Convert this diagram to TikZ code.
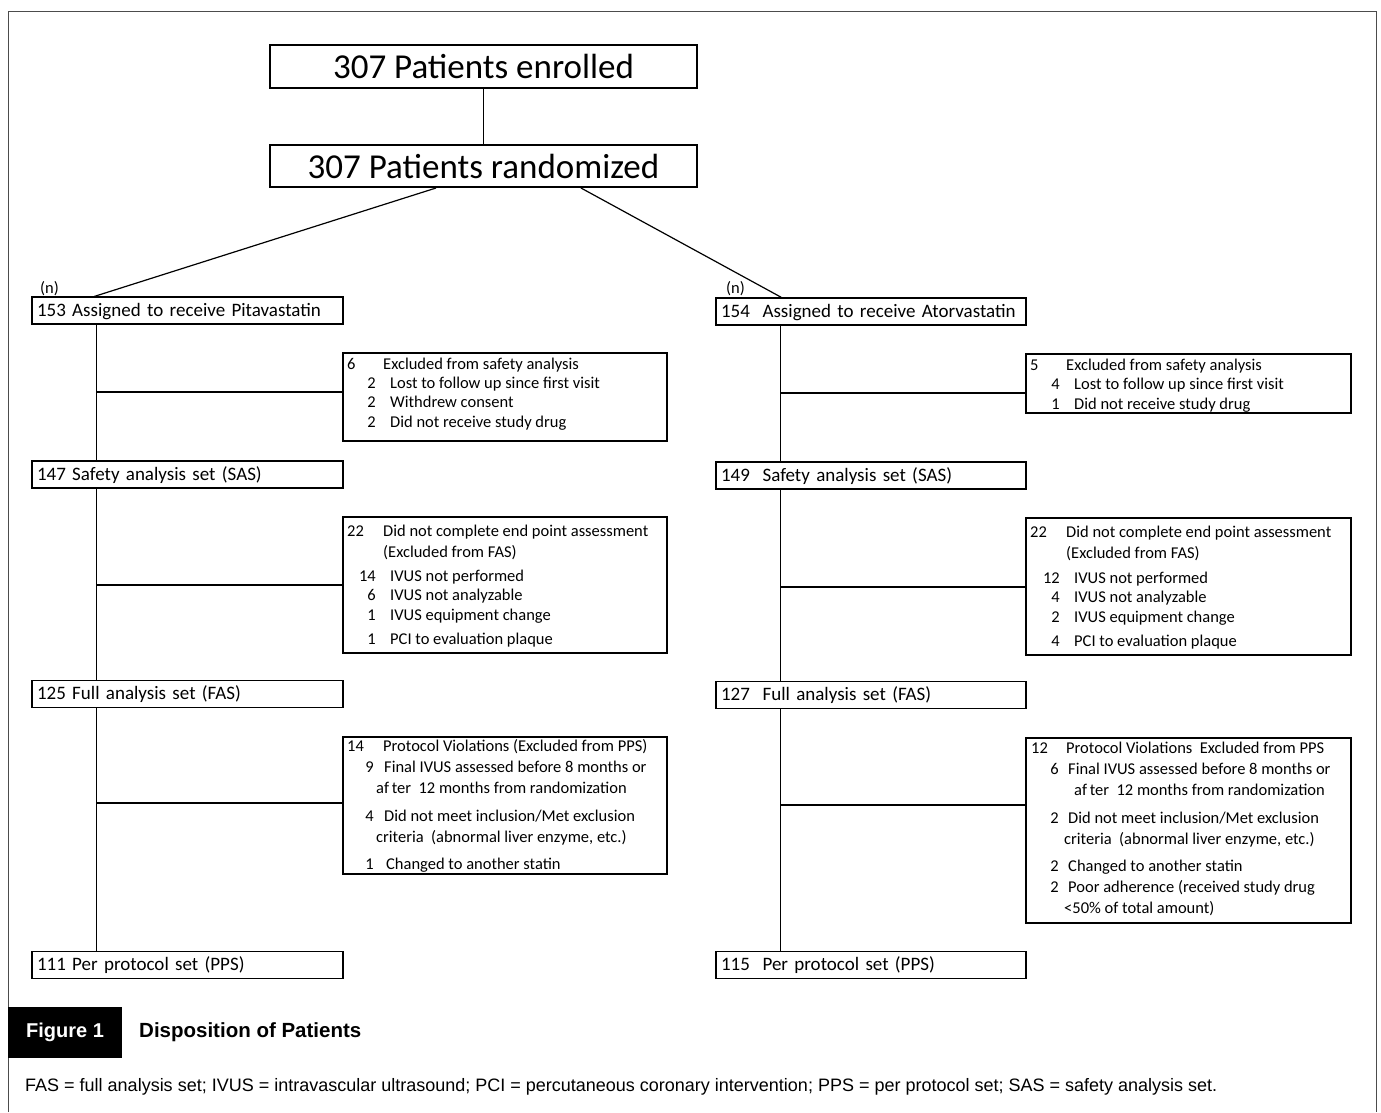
\documentclass[tikz,border=0pt]{standalone}
\usepackage{fontspec}
\setmainfont{Carlito}
\newfontfamily\capfont{Liberation Sans}
\newfontfamily\notefont{Liberation Sans}
\usetikzlibrary{positioning}

\tikzset{
  bigbox/.style={draw, line width=2pt, minimum width=427pt, minimum height=43pt, inner sep=0pt, font=\fontsize{35}{40}\selectfont},
  armbox/.style={draw, line width=1.2pt, minimum width=311pt, minimum height=27pt, text width=301pt, inner xsep=5pt, inner ysep=0pt, text depth=2pt, align=left, font=\fontsize{19}{22}\selectfont},
  exbox/.style={draw, line width=1.2pt, minimum width=324pt, inner sep=0pt},
  extxt/.style={anchor=base west, inner sep=0pt, font=\fontsize{16.5}{20}\selectfont},
  subnum/.style={anchor=base east, inner sep=0pt, font=\fontsize{16.5}{20}\selectfont},
  link/.style={line width=1.2pt}
}

\begin{document}
\begin{tikzpicture}[x=1pt, y=-1pt]
  \useasboundingbox (0,0) rectangle (1381,1112);
  \draw [line width=1pt, black!70] (8,1112) -- (8,11) -- (1376,11) -- (1376,1112);

  % top of the chart
  \node [bigbox] (enrol) at (483.5,66.5) {307 Patients enrolled};
  \node [bigbox, minimum height=42pt] (rand) at (483.5,166) {307 Patients randomized};
  \draw [link] (enrol) -- (rand);

  % the two arms
  \node [armbox] (pita) at (187.5,310.5) {153 Assigned to receive Pitavastatin};
  \node [armbox] (sasl) at (187.5,474.5) {147 Safety analysis set (SAS)};
  \node [armbox] (fasl) at (187.5,694) {125 Full analysis set (FAS)};
  \node [armbox] (ppsl) at (187.5,965) {111 Per protocol set (PPS)};
  \node [armbox, minimum width=310pt, text width=300pt] (ator) at (871,311.5) {154~ Assigned to receive Atorvastatin};
  \node [armbox, minimum width=310pt, text width=300pt] (sasr) at (871,475.5) {149~ Safety analysis set (SAS)};
  \node [armbox, minimum width=310pt, text width=300pt] (fasr) at (871,695) {127~ Full analysis set (FAS)};
  \node [armbox, minimum width=310pt, text width=300pt] (ppsr) at (871,965) {115~ Per protocol set (PPS)};
  \node [extxt] (nl) at (40,293) {(n)};
  \node [extxt] (nr) at (726,293) {(n)};
  \draw [link] ([xshift=167pt]rand.south west) -- ([xshift=63pt]pita.north west);
  \draw [link] ([xshift=312pt]rand.south west) -- ([xshift=66pt]ator.north west);

  \draw [link] ([xshift=65pt]pita.south west) -- ([xshift=65pt]sasl.north west);
  \draw [link] ([xshift=65pt]sasl.south west) -- ([xshift=65pt]fasl.north west);
  \draw [link] ([xshift=65pt]fasl.south west) -- ([xshift=65pt]ppsl.north west);
  \draw [link] ([xshift=65pt]ator.south west) -- ([xshift=65pt]sasr.north west);
  \draw [link] ([xshift=65pt]sasr.south west) -- ([xshift=65pt]fasr.north west);
  \draw [link] ([xshift=65pt]fasr.south west) -- ([xshift=65pt]ppsr.north west);

  % exclusion boxes, left
  \node [exbox, minimum height=88pt] (exsl) at (505,397) {};
  \node [exbox, minimum height=136pt] (exfl) at (505,585) {};
  \node [exbox, minimum height=137pt] (expl) at (505,805.5) {};
  \coordinate (bl1) at (97,392);
  \coordinate (bl2) at (97,585);
  \coordinate (bl3) at (97,803);
  \draw [link] (bl1) -- (bl1 -| exsl.west);
  \draw [link] (bl2) -- (bl2 -| exfl.west);
  \draw [link] (bl3) -- (bl3 -| expl.west);

  \node [extxt] (hsl) at (347,369) {6};
  \node [extxt] (tsl) at (383,369) {Excluded from safety analysis};
  \foreach \y/\n/\t [count=\i] in {388/2/Lost to follow up since first visit, 407/2/Withdrew consent, 427/2/Did not receive study drug} {
    \node [subnum] (snsl\i) at (376,\y) {\n};
    \node [extxt] (stsl\i) at (390,\y) {\t};
  }

  \node [extxt] (hfl) at (347,536) {22};
  \node [extxt] (tfl) at (383,536) {Did not complete end point assessment};
  \node [extxt] (tfl2) at (383,557) {(Excluded from FAS)};
  \foreach \y/\n/\t [count=\i] in {581/14/IVUS not performed, 600/6/IVUS not analyzable, 620/1/IVUS equipment change, 644/1/PCI to evaluation plaque} {
    \node [subnum] (snfl\i) at (376,\y) {\n};
    \node [extxt] (stfl\i) at (390,\y) {\t};
  }

  \node [extxt] (hpl) at (347,751) {14};
  \node [extxt] (tpl) at (383,751) {Protocol Violations (Excluded from PPS)};
  \node [subnum] (snpl1) at (374,772) {9};
  \node [extxt] (stpl1) at (384,772) {Final IVUS assessed before 8 months or};
  \node [extxt] (stpl1b) at (376,793) {af\,ter~ 12 months from randomization};
  \node [subnum] (snpl2) at (374,821) {4};
  \node [extxt] (stpl2) at (384,821) {Did not meet inclusion/Met exclusion};
  \node [extxt] (stpl2b) at (376,842) {criteria~ (abnormal liver enzyme, etc.)};
  \node [subnum] (snpl3) at (374,869) {1};
  \node [extxt] (stpl3) at (386,869) {Changed to another statin};

  % exclusion boxes, right
  \node [exbox, minimum width=325pt, minimum height=59pt] (exsr) at (1188.5,383.5) {};
  \node [exbox, minimum width=325pt, minimum height=137pt] (exfr) at (1188.5,586.5) {};
  \node [exbox, minimum width=325pt, minimum height=185pt] (expr) at (1188.5,830.5) {};
  \coordinate (br1) at (781,393);
  \coordinate (br2) at (781,587);
  \coordinate (br3) at (781,805);
  \draw [link] (br1) -- (br1 -| exsr.west);
  \draw [link] (br2) -- (br2 -| exfr.west);
  \draw [link] (br3) -- (br3 -| expr.west);

  \node [extxt] (hsr) at (1030,370) {5};
  \node [extxt] (tsr) at (1066,370) {Excluded from safety analysis};
  \foreach \y/\n/\t [count=\i] in {389/4/Lost to follow up since first visit, 409/1/Did not receive study drug} {
    \node [subnum] (snsr\i) at (1060,\y) {\n};
    \node [extxt] (stsr\i) at (1074,\y) {\t};
  }

  \node [extxt] (hfr) at (1030,537) {22};
  \node [extxt] (tfr) at (1066,537) {Did not complete end point assessment};
  \node [extxt] (tfr2) at (1066,558) {(Excluded from FAS)};
  \foreach \y/\n/\t [count=\i] in {583/12/IVUS not performed, 602/4/IVUS not analyzable, 622/2/IVUS equipment change, 646/4/PCI to evaluation plaque} {
    \node [subnum] (snfr\i) at (1060,\y) {\n};
    \node [extxt] (stfr\i) at (1074,\y) {\t};
  }

  \node [extxt] (hpr) at (1031,753) {12};
  \node [extxt] (tpr) at (1066,753) {Protocol Violations~ Excluded from PPS};
  \node [subnum] (snpr1) at (1059,774) {6};
  \node [extxt] (stpr1) at (1068,774) {Final IVUS assessed before 8 months or};
  \node [extxt] (stpr1b) at (1074,795) {af\,ter~ 12 months from randomization};
  \node [subnum] (snpr2) at (1059,823) {2};
  \node [extxt] (stpr2) at (1068,823) {Did not meet inclusion/Met exclusion};
  \node [extxt] (stpr2b) at (1064,844) {criteria~ (abnormal liver enzyme, etc.)};
  \node [subnum] (snpr3) at (1059,871) {2};
  \node [extxt] (stpr3) at (1068,871) {Changed to another statin};
  \node [subnum] (snpr4) at (1059,892) {2};
  \node [extxt] (stpr4) at (1068,892) {Poor adherence (received study drug};
  \node [extxt] (stpr4b) at (1064,913) {<50\% of total amount)};

  % caption
  \node [fill=black, minimum width=114pt, minimum height=51pt, inner sep=0pt, text=white, font=\capfont\bfseries\fontsize{20}{24}\selectfont] (figlab) at (65,1032.5) {Figure 1};
  \node [anchor=west, inner sep=0pt, font=\capfont\bfseries\fontsize{20.5}{24}\selectfont] (figtitle) at (139,1032.5) {Disposition of Patients};
  \node [anchor=west, inner sep=0pt, font=\notefont\fontsize{18}{22}\selectfont] (note) at (25,1087) {FAS = full analysis set; IVUS = intravascular ultrasound; PCI = percutaneous coronary intervention; PPS = per protocol set; SAS = safety analysis set.};
\end{tikzpicture}
\end{document}
